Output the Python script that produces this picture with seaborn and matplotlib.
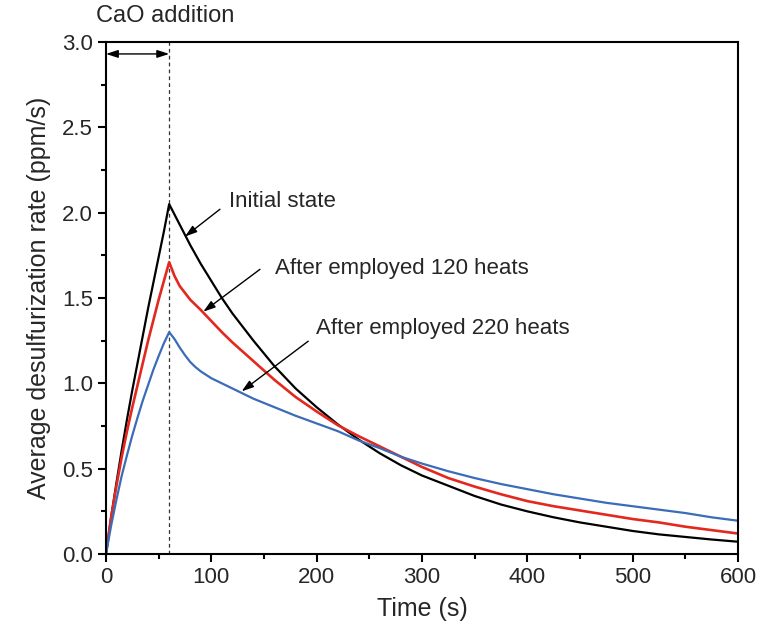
import matplotlib
matplotlib.use("Agg")
import matplotlib.pyplot as plt
import pandas as pd
import seaborn as sns
from matplotlib.ticker import MultipleLocator, FormatStrFormatter

# Time axis (s) shared by all three curves
time_s = [0, 5, 10, 15, 20, 25, 30, 35, 40, 45, 50, 55, 60, 65, 70, 75, 80, 85,
          90, 100, 110, 120, 140, 160, 180, 200, 220, 240, 260, 280, 300, 325,
          350, 375, 400, 425, 450, 475, 500, 525, 550, 575, 600]

# Average desulfurization rate (ppm/s)
initial_state = [0.00, 0.22, 0.42, 0.61, 0.79, 0.96, 1.12, 1.28, 1.44, 1.59,
                 1.74, 1.89, 2.05, 1.99, 1.93, 1.87, 1.81, 1.755,
                 1.70, 1.60, 1.50, 1.41, 1.25, 1.10, 0.97, 0.86, 0.76, 0.67,
                 0.59, 0.52, 0.46, 0.40, 0.34, 0.29, 0.25, 0.215, 0.185,
                 0.16, 0.135, 0.115, 0.10, 0.085, 0.072]
after_120_heats = [0.00, 0.22, 0.40, 0.57, 0.72, 0.86, 0.99, 1.12, 1.25, 1.37,
                   1.49, 1.60, 1.71, 1.63, 1.57, 1.53, 1.49, 1.46,
                   1.43, 1.365, 1.30, 1.24, 1.13, 1.02, 0.92, 0.835, 0.755,
                   0.69, 0.63, 0.57, 0.51, 0.445, 0.395, 0.35, 0.31, 0.28,
                   0.255, 0.23, 0.205, 0.185, 0.16, 0.14, 0.12]
after_220_heats = [0.00, 0.17, 0.32, 0.46, 0.58, 0.695, 0.80, 0.90, 0.99, 1.08,
                   1.16, 1.235, 1.30, 1.26, 1.21, 1.165, 1.125, 1.095,
                   1.07, 1.03, 1.00, 0.97, 0.91, 0.86, 0.81, 0.765, 0.72,
                   0.665, 0.62, 0.57, 0.53, 0.485, 0.445, 0.41, 0.38, 0.35,
                   0.325, 0.30, 0.28, 0.26, 0.24, 0.215, 0.195]

series_names = ["Initial state", "After employed 120 heats", "After employed 220 heats"]
series_values = [initial_state, after_120_heats, after_220_heats]
series_colors = ["#000000", "#e3281f", "#3a6cb8"]
series_widths = [1.6, 1.9, 1.6]

cao_time = 60

sns.set_style("ticks")
plt.rcParams["font.family"] = ["Liberation Sans", "DejaVu Sans"]

fig, ax = plt.subplots(figsize=(7.64, 6.41), dpi=100)
fig.subplots_adjust(left=0.1387, right=0.966, bottom=0.1357, top=0.9345)

for name, vals, col, lw in zip(series_names, series_values, series_colors, series_widths):
    df = pd.DataFrame({"Time (s)": time_s, "Rate": vals})
    sns.lineplot(data=df, x="Time (s)", y="Rate", color=col, linewidth=lw,
                 estimator=None, sort=False, ax=ax)

# CaO addition marker
ax.axvline(cao_time, color="#333333", linestyle=(0, (3, 2.5)), linewidth=0.9, zorder=1)
ax.annotate("", xy=(0, 2.93), xytext=(cao_time, 2.93),
            arrowprops=dict(arrowstyle="<|-|>,head_length=0.4,head_width=0.13",
                            mutation_scale=18, color="black", lw=1,
                            shrinkA=0, shrinkB=0))
ax.text(-9.5, 3.118, "CaO addition", fontsize=17, ha="left", va="baseline",
        clip_on=False)

# Curve labels with pointer arrows
arrow_kw = dict(arrowstyle="-|>,head_length=0.4,head_width=0.13",
                mutation_scale=18, color="black", lw=1, shrinkA=0, shrinkB=0)
labels = [
    ("Initial state", (116.8, 2.032), (108.2, 2.02), (75, 1.86)),
    ("After employed 120 heats", (160.4, 1.638), (146.2, 1.668), (92.4, 1.42)),
    ("After employed 220 heats", (199.4, 1.292), (192.0, 1.247), (128.8, 0.953)),
]
for text, tpos, start, end in labels:
    ax.text(tpos[0], tpos[1], text, fontsize=16, ha="left", va="baseline")
    ax.annotate("", xy=end, xytext=start, arrowprops=arrow_kw)

ax.set_xlim(0, 600)
ax.set_ylim(0, 3.0)
ax.xaxis.set_major_locator(MultipleLocator(100))
ax.xaxis.set_minor_locator(MultipleLocator(50))
ax.yaxis.set_major_locator(MultipleLocator(0.5))
ax.yaxis.set_minor_locator(MultipleLocator(0.25))
ax.yaxis.set_major_formatter(FormatStrFormatter("%.1f"))

ax.tick_params(which="major", direction="out", length=6, width=1.5,
               labelsize=16, color="black")
ax.tick_params(which="minor", direction="out", length=3.5, width=1.5, color="black")
for side in ["top", "right", "bottom", "left"]:
    ax.spines[side].set_visible(True)
    ax.spines[side].set_linewidth(1.5)
    ax.spines[side].set_color("black")

ax.set_xlabel("Time (s)", fontsize=18, labelpad=6)
ax.set_ylabel("Average desulfurization rate (ppm/s)", fontsize=18, labelpad=8)

fig.savefig("out.png", dpi=100)
